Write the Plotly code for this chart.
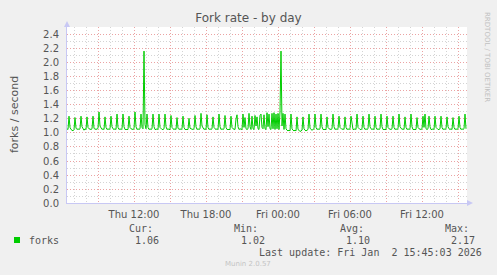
import pandas as pd
import plotly.graph_objects as go

# ---- data (forks / second, 5-minute samples) ----
values = [
    1.06, 1.05, 1.24, 1.08, 1.05, 1.04,
    1.03, 1.05, 1.22, 1.07, 1.05, 1.06,
    1.05, 1.06, 1.24, 1.09, 1.05, 1.04,
    1.06, 1.05, 1.23, 1.08, 1.06, 1.05,
    1.05, 1.06, 1.24, 1.07, 1.05, 1.06,
    1.05, 1.07, 1.30, 1.10, 1.06, 1.05,
    1.06, 1.05, 1.23, 1.08, 1.05, 1.06,
    1.05, 1.06, 1.24, 1.09, 1.06, 1.05,
    1.06, 1.05, 1.27, 1.08, 1.05, 1.06,
    1.05, 1.06, 1.27, 1.09, 1.05, 1.05,
    1.06, 1.05, 1.24, 1.08, 1.06, 1.05,
    1.05, 1.06, 1.30, 1.09, 1.05, 1.06,
    1.05, 1.06, 1.27, 1.08, 1.06, 2.17,
    1.12, 1.06, 1.27, 1.08, 1.05, 1.06,
    1.05, 1.06, 1.27, 1.09, 1.05, 1.05,
    1.06, 1.05, 1.27, 1.08, 1.06, 1.05,
    1.05, 1.06, 1.27, 1.09, 1.05, 1.06,
    1.05, 1.05, 1.25, 1.08, 1.06, 1.05,
    1.06, 1.05, 1.22, 1.07, 1.05, 1.06,
    1.05, 1.06, 1.24, 1.08, 1.05, 1.05,
    1.06, 1.05, 1.21, 1.07, 1.06, 1.05,
    1.05, 1.06, 1.25, 1.09, 1.05, 1.06,
    1.05, 1.06, 1.28, 1.10, 1.06, 1.05,
    1.06, 1.05, 1.26, 1.08, 1.05, 1.06,
    1.05, 1.06, 1.23, 1.08, 1.06, 1.05,
    1.06, 1.05, 1.27, 1.09, 1.05, 1.06,
    1.05, 1.06, 1.25, 1.08, 1.05, 1.05,
    1.06, 1.05, 1.24, 1.08, 1.06, 1.05,
    1.05, 1.20, 1.26, 1.09, 1.05, 1.06,
    1.06, 1.05, 1.27, 1.08, 1.22, 1.06,
    1.05, 1.06, 1.28, 1.09, 1.05, 1.24,
    1.06, 1.05, 1.25, 1.10, 1.23, 1.06,
    1.05, 1.25, 1.27, 1.08, 1.06, 1.26,
    1.06, 1.05, 1.29, 1.09, 1.27, 1.06,
    1.05, 1.28, 1.06, 1.29, 1.05, 1.27,
    1.06, 1.28, 1.05, 1.30, 2.17, 1.10,
    1.28, 1.05, 1.27, 1.06, 1.04, 1.03,
    1.04, 1.03, 1.27, 1.06, 1.04, 1.03,
    1.04, 1.03, 1.23, 1.05, 1.04, 1.02,
    1.03, 1.04, 1.23, 1.06, 1.04, 1.03,
    1.04, 1.05, 1.27, 1.07, 1.05, 1.04,
    1.05, 1.06, 1.27, 1.08, 1.05, 1.06,
    1.05, 1.06, 1.27, 1.09, 1.05, 1.05,
    1.06, 1.05, 1.23, 1.08, 1.06, 1.05,
    1.05, 1.06, 1.27, 1.09, 1.05, 1.06,
    1.05, 1.06, 1.24, 1.08, 1.06, 1.05,
    1.06, 1.05, 1.23, 1.08, 1.05, 1.06,
    1.05, 1.06, 1.24, 1.09, 1.05, 1.05,
    1.06, 1.05, 1.27, 1.08, 1.06, 1.05,
    1.05, 1.06, 1.24, 1.08, 1.05, 1.06,
    1.05, 1.06, 1.27, 1.09, 1.06, 1.05,
    1.06, 1.05, 1.24, 1.08, 1.05, 1.06,
    1.05, 1.06, 1.27, 1.09, 1.05, 1.05,
    1.06, 1.05, 1.24, 1.08, 1.06, 1.05,
    1.05, 1.06, 1.24, 1.08, 1.05, 1.06,
    1.05, 1.06, 1.27, 1.09, 1.06, 1.05,
    1.06, 1.05, 1.23, 1.08, 1.05, 1.06,
    1.05, 1.06, 1.27, 1.09, 1.05, 1.05,
    1.06, 1.05, 1.22, 1.08, 1.06, 1.05,
    1.05, 1.06, 1.24, 1.08, 1.27, 1.06,
    1.05, 1.06, 1.24, 1.09, 1.05, 1.05,
    1.06, 1.05, 1.24, 1.08, 1.06, 1.05,
    1.05, 1.06, 1.24, 1.08, 1.05, 1.06,
    1.05, 1.06, 1.23, 1.09, 1.06, 1.05,
    1.06, 1.05, 1.22, 1.08, 1.05, 1.06,
    1.05, 1.06, 1.24, 1.08, 1.05, 1.06,
    1.05, 1.06, 1.27, 1.06,
]
start_time = "2026-01-01 06:25"
sample_step = "5min"
first_grid_time = "2026-01-01 09:00"
grid_step = "3h"
x_tick_labels = ["", "Thu 12:00", "", "Thu 18:00", "", "Fri 00:00", "",
                 "Fri 06:00", "", "Fri 12:00", ""]
series_name = "forks"
stat_headers = ["Cur:", "Min:", "Avg:", "Max:"]
stat_values = ["1.06", "1.02", "1.10", "2.17"]
title_text = "Fork rate - by day"
y_title = "forks / second"
last_update = "Last update: Fri Jan  2 15:45:03 2026"
footer = "Munin 2.0.57"
side_text = "RRDTOOL / TOBI OETIKER"

# ---- build ----
times = pd.date_range(start_time, periods=len(values), freq=sample_step)
grid_times = pd.date_range(first_grid_time, periods=len(x_tick_labels), freq=grid_step)
x_end = times[0] + pd.Timedelta(sample_step) * len(values)

W, H = 497, 275
L, R, T, B = 67, 467, 27, 203


def px(x):
    return (x - L) / (R - L)


def py(y):
    return (B - y) / (B - T)


SANS = "DejaVu Sans"
MONO = "DejaVu Sans Mono"
TXT = "#555555"
MAJ = "#eba3a3"
MIN = "#d4d4d4"

fig = go.Figure()
fig.add_trace(go.Scatter(x=times, y=values, mode="lines",
                         line=dict(color="#00cc00", width=1),
                         hoverinfo="skip", showlegend=False))

fig.update_layout(
    width=W, height=H,
    margin=dict(l=L, r=W - R, t=T, b=H - B),
    paper_bgcolor="#f0f0f0", plot_bgcolor="#ffffff",
    showlegend=False,
    font=dict(family=SANS, size=10, color=TXT),
    title=dict(text=title_text, x=0.5, xref="container", xanchor="center",
               y=1 - 18 / H, yref="container", yanchor="middle",
               font=dict(family=SANS, size=12, color=TXT)),
)

fig.update_xaxes(
    type="date", range=[times[0], x_end],
    tickmode="array", tickvals=grid_times, ticktext=x_tick_labels,
    showgrid=True, gridcolor=MAJ, griddash="1px,2px", gridwidth=1,
    ticks="", ticklabelstandoff=2,
    tickfont=dict(family=SANS, size=10, color=TXT),
    showline=True, linecolor="#c8c8f4", linewidth=1,
    zeroline=False,
    minor=dict(tickmode="linear", tick0=first_grid_time, dtick=3600000,
               showgrid=True, gridcolor=MIN, griddash="1px,2px", gridwidth=1,
               ticks=""),
)
fig.update_yaxes(
    range=[0, 2.514], tickmode="linear", tick0=0, dtick=0.2, tickformat=".1f",
    showgrid=True, gridcolor=MAJ, griddash="1px,2px", gridwidth=1,
    ticks="", ticklabelstandoff=5,
    tickfont=dict(family=SANS, size=10, color=TXT),
    showline=True, linecolor="#c8c8f4", linewidth=1,
    zeroline=False,
    minor=dict(tickmode="linear", tick0=0.1, dtick=0.2,
               showgrid=True, gridcolor=MIN, griddash="1px,2px", gridwidth=1,
               ticks=""),
)

# axis arrows
fig.add_shape(type="path", xref="paper", yref="paper",
              xsizemode="pixel", ysizemode="pixel", xanchor=0, yanchor=1,
              path="M -3,0 L 3,0 L 0,6 Z", fillcolor="#c8c8f4", line=dict(width=0))
fig.add_shape(type="line", xref="paper", yref="paper",
              xsizemode="pixel", ysizemode="pixel", xanchor=0, yanchor=1,
              x0=0, x1=0, y0=0, y1=4, line=dict(color="#c8c8f4", width=1))
fig.add_shape(type="path", xref="paper", yref="paper",
              xsizemode="pixel", ysizemode="pixel", xanchor=1, yanchor=0,
              path="M 0,-3 L 0,3 L 6,0 Z", fillcolor="#c8c8f4", line=dict(width=0))

ann = []
ann.append(dict(text=y_title, x=px(14), y=py(115), textangle=-90,
                font=dict(family=SANS, size=11, color=TXT)))
ann.append(dict(text=side_text, x=px(487), y=py(57), textangle=90,
                font=dict(family=SANS, size=7, color="#c0c0c0")))
header_right = [155, 260, 366, 471]
value_right = [161, 267, 372, 477]
for h, v, hr, vr in zip(stat_headers, stat_values, header_right, value_right):
    ann.append(dict(text=h, x=px(hr), y=py(228), xanchor="right",
                    font=dict(family=MONO, size=10, color=TXT)))
    ann.append(dict(text=v, x=px(vr), y=py(240), xanchor="right",
                    font=dict(family=MONO, size=10, color=TXT)))
ann.append(dict(text=series_name, x=px(27), y=py(240), xanchor="left",
                font=dict(family=MONO, size=10, color=TXT)))
ann.append(dict(text=last_update, x=px(484), y=py(252), xanchor="right",
                font=dict(family=MONO, size=10, color=TXT)))
ann.append(dict(text=footer, x=px(248), y=py(264), xanchor="center",
                font=dict(family=SANS, size=7, color="#c4c4c4")))
for a in ann:
    a.update(xref="paper", yref="paper", showarrow=False,
             yanchor="middle", **({} if "xanchor" in a else {"xanchor": "center"}))
fig.update_layout(annotations=ann)

fig.add_shape(type="rect", xref="paper", yref="paper",
              x0=px(14), x1=px(20), y0=py(243), y1=py(237),
              fillcolor="#00cc00", line=dict(width=0))

fig.write_html("out.html")
